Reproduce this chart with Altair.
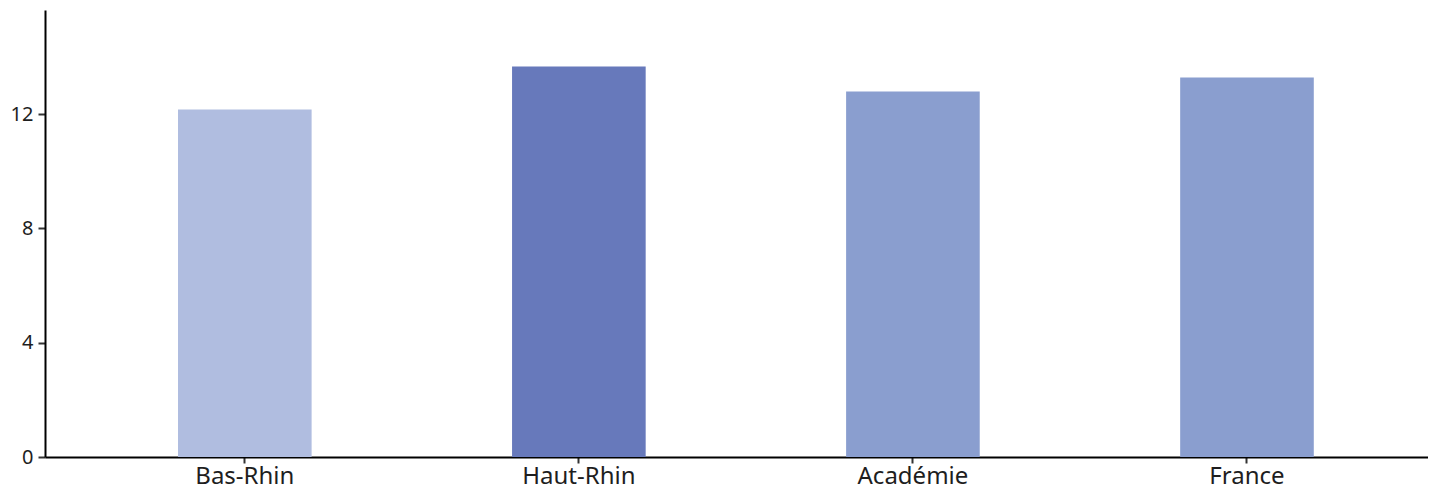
import altair as alt
import pandas as pd

categories = ["Bas-Rhin", "Haut-Rhin", "Académie", "France"]
values = [12.16, 13.66, 12.79, 13.28]
colors = ["#b0bde0", "#6779bb", "#8a9ecf", "#8a9ecf"]

df = pd.DataFrame({"cat": categories, "val": values, "color": colors})

chart = alt.Chart(df).mark_bar().encode(
    x=alt.X("cat:N", sort=categories, title=None,
            scale=alt.Scale(paddingInner=0.6, paddingOuter=0.37, align=0.538),
            axis=alt.Axis(labelAngle=0, labelFontSize=24, labelColor="#1e1e1e",
                          labelFont="Noto Sans", domainColor="#000000", domainWidth=2,
                          tickColor="#333333", tickSize=6, tickWidth=2, labelPadding=1)),
    y=alt.Y("val:Q", title=None,
            scale=alt.Scale(domain=[0, 15.64], nice=False, zero=True),
            axis=alt.Axis(values=[0, 4, 8, 12], grid=False, labelFontSize=20,
                          labelColor="#1e1e1e", labelFont="Noto Sans",
                          domainColor="#000000", domainWidth=2,
                          tickColor="#333333", tickSize=7, tickWidth=2, labelPadding=5)),
    color=alt.Color("color:N", scale=None),
).properties(
    width=1383, height=447,
    padding={"left": 2, "top": 2, "right": 0, "bottom": 0},
).configure_view(stroke=None)

chart.save("out.html", embed_options={"renderer": "svg", "actions": False})
